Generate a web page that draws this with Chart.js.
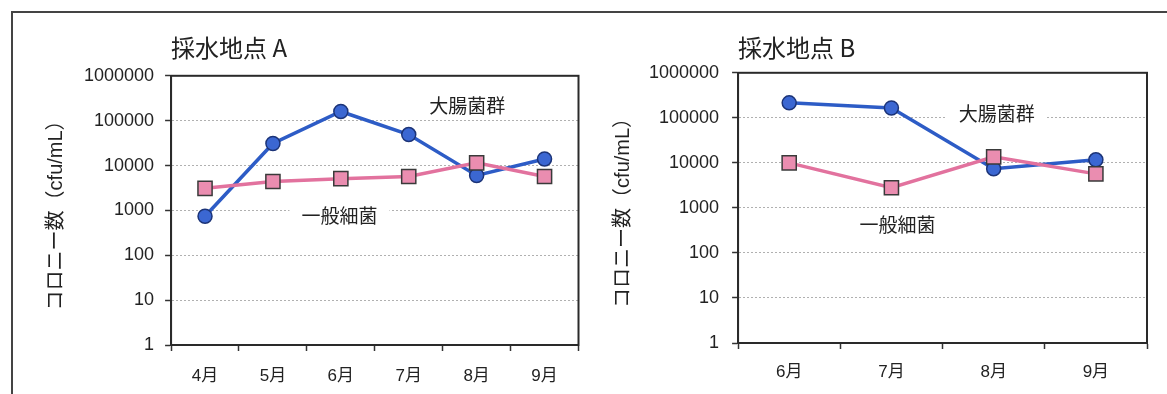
<!DOCTYPE html>
<html lang="ja">
<head>
<meta charset="utf-8">
<script src="https://cdn.jsdelivr.net/npm/chart.js@4/dist/chart.umd.min.js"></script>
<style>
  html, body { margin: 0; padding: 0; background: #fff; }
  body { width: 1167px; height: 394px; position: relative; overflow: hidden; }
  .frame { position: absolute; left: 11px; top: 11px; right: -5px; bottom: -5px; border-top: 2px solid #444; border-left: 2px solid #444; }
  .box { position: absolute; top: 14px; height: 400px; }
  #boxA { left: 14px; width: 576px; }
  #boxB { left: 590px; width: 577px; }
</style>
</head>
<body>
<div class="frame"></div>
<div class="box" id="boxA"><canvas id="chartA"></canvas></div>
<div class="box" id="boxB"><canvas id="chartB"></canvas></div>
<script>
const monthsA = ["4月", "5月", "6月", "7月", "8月", "9月"];
const coliA = [740, 31000, 160000, 49000, 6000, 14000];
const generalA = [3100, 4400, 5100, 5700, 11500, 5700];

const monthsB = ["6月", "7月", "8月", "9月"];
const coliB = [215000, 165000, 7400, 11700];
const generalB = [10000, 2800, 13600, 5700];

const yTicks = [1, 10, 100, 1000, 10000, 100000, 1000000];
const yTickLabels = ["1", "10", "100", "1000", "10000", "100000", "1000000"];

const seriesNames = ["大腸菌群", "一般細菌"];
// where the series names are written: [category index, value]
const labelPosA = [[3.86, 215000], [1.98, 770]];
const labelPosB = [[2.03, 123000], [1.06, 430]];

const latin = "'Liberation Sans', 'Noto Sans CJK JP', sans-serif";
const cjk = "'Noto Sans CJK JP', sans-serif";

const labelPlugin = {
  id: "seriesLabels",
  beforeDatasetsDraw(chart, args, opts) {
    const ctx = chart.ctx;
    const x = chart.scales.x;
    const y = chart.scales.y;
    ctx.save();
    ctx.font = "19px " + cjk;
    ctx.textAlign = "center";
    ctx.textBaseline = "middle";
    opts.positions.forEach((p, i) => {
      const px = x.getPixelForValue(p[0]);
      const py = y.getPixelForValue(p[1]);
      ctx.fillStyle = "#fff";
      ctx.fillRect(px - 50, py - 12, 100, 24);
      ctx.fillStyle = "#222";
      ctx.fillText(seriesNames[i], px, py);
    });
    // plot frame
    const a = chart.chartArea;
    ctx.strokeStyle = "#2a2a2a";
    ctx.lineWidth = 2;
    ctx.strokeRect(a.left, a.top, a.right - a.left, a.bottom - a.top);
    ctx.restore();
  }
};

function makeChart(id, title, months, coli, general, labelPos, pad) {
  new Chart(document.getElementById(id), {
    type: "line",
    data: {
      labels: months,
      datasets: [
        {
          label: seriesNames[0],
          data: coli,
          borderColor: "#2d5cc6",
          borderWidth: 3.5,
          pointStyle: "circle",
          pointRadius: 7,
          pointBackgroundColor: "#3b67d2",
          pointBorderColor: "#1c3478",
          pointBorderWidth: 1.5,
          tension: 0,
          order: 1
        },
        {
          label: seriesNames[1],
          data: general,
          borderColor: "#e2729e",
          borderWidth: 3.5,
          pointStyle: "rect",
          pointRadius: 10,
          pointBackgroundColor: "#ea8db0",
          pointBorderColor: "#3a3a3a",
          pointBorderWidth: 1.5,
          tension: 0,
          order: 0
        }
      ]
    },
    options: {
      responsive: true,
      maintainAspectRatio: false,
      animation: false,
      layout: { padding: pad.layout },
      plugins: {
        legend: { display: false },
        tooltip: { enabled: false },
        title: {
          display: true,
          text: title,
          align: "start",
          fullSize: false,
          color: "#222",
          font: { family: cjk, size: 24, weight: "normal" },
          padding: { top: 4, bottom: pad.titleBottom }
        },
        seriesLabels: { positions: labelPos }
      },
      scales: {
        x: {
          offset: true,
          grid: { offset: true, drawOnChartArea: false, tickLength: 6, tickColor: "#333", tickWidth: 1.5 },
          border: { color: "#2a2a2a", width: 2 },
          ticks: { color: "#222", padding: pad.xPad, font: { family: latin, size: 17 } }
        },
        y: {
          type: "logarithmic",
          min: 1,
          max: 1000000,
          afterBuildTicks: (s) => { s.ticks = yTicks.map(v => ({ value: v })); },
          grid: {
            color: (c) => (c.tick && (c.tick.value === 1 || c.tick.value === 1000000)) ? "rgba(0,0,0,0)" : "#b0b0b0",
            lineWidth: 1,
            tickLength: 6,
            tickColor: "#333",
            tickWidth: 1.5
          },
          border: { color: "#2a2a2a", width: 2, dash: [2, 2] },
          ticks: { color: "#222", padding: pad.yPad, font: { family: latin, size: 18 }, callback: (v, i) => yTickLabels[i] },
          title: {
            display: true,
            text: "コロニー数（cfu/mL）",
            color: "#222",
            font: { family: latin, size: 20 },
            padding: { top: 4, bottom: pad.yTitleBottom }
          }
        }
      }
    },
    plugins: [labelPlugin]
  });
}

makeChart("chartA", "採水地点 A", monthsA, coliA, generalA, labelPosA,
  { layout: { left: 26, top: 15, right: 0, bottom: 13 }, titleBottom: 14, yTitleBottom: 5, yPad: 11, xPad: 14.8 });
makeChart("chartB", "採水地点 B", monthsB, coliB, generalB, labelPosB,
  { layout: { left: 17, top: 15, right: 20, bottom: 19 }, titleBottom: 11, yTitleBottom: 1, yPad: 13, xPad: 12.8 });
</script>
</body>
</html>
